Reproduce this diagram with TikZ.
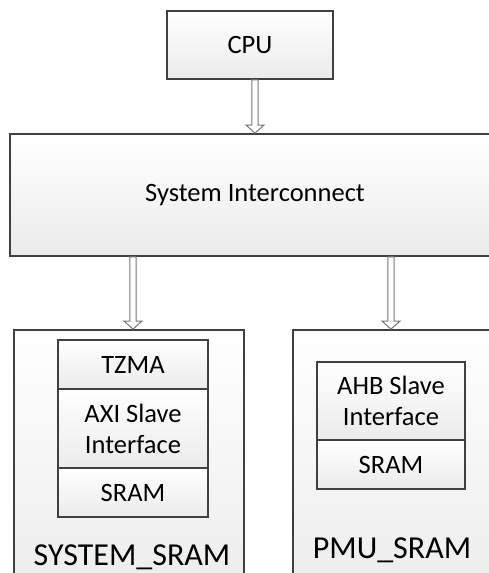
\documentclass[tikz,border=0pt]{standalone}
\usepackage{fontspec}
\setmainfont{Carlito}
\usetikzlibrary{calc}
\definecolor{edge}{HTML}{404040}
\definecolor{arrowgray}{HTML}{777777}
\definecolor{shadebot}{HTML}{EBEBEB}
\tikzset{
  box/.style={draw=edge, line width=1.8pt, top color=white, bottom color=shadebot,
    inner sep=0pt, font=\fontsize{26.5}{31}\selectfont, align=center},
  cell/.style={draw=edge, line width=1.1pt, top color=white, bottom color=shadebot,
    inner sep=0pt, font=\fontsize{26.5}{31}\selectfont, align=center},
  biglabel/.style={anchor=base, inner sep=0pt, font=\fontsize{32}{38}\selectfont},
  blockarrow/.style={draw=arrowgray, fill=white, line width=1pt, line join=miter,
    to path={let \p1=(\tikztostart), \p2=(\tikztotarget) in
      (\x1-3.2pt,\y1) -- (\x1-3.2pt,\y2+8pt) -- (\x1-9pt,\y2+8pt) -- (\x1,\y2)
      -- (\x1+9pt,\y2+8pt) -- (\x1+3.2pt,\y2+8pt) -- (\x1+3.2pt,\y1) -- cycle}}
}
\begin{document}
\begin{tikzpicture}[x=1pt,y=-1pt]
\useasboundingbox (0,0) rectangle (489,573);
\clip (0,0) rectangle (489,573);

% top level blocks
\node[box, minimum width=166pt, minimum height=68pt] (cpu) at (250,45) {CPU};
\node[box, minimum width=490pt, minimum height=122pt] (si) at (255,195) {System Interconnect};

% memory subsystems (run past the lower edge)
\node[box, minimum width=230pt, minimum height=280pt] (sys) at (129,470) {};
\node[box, minimum width=227pt, minimum height=280pt] (pmu) at (406.5,470) {};

% SYSTEM_SRAM stack
\node[cell, minimum width=150pt, minimum height=49pt] (tzma) at (133,364.5) {TZMA};
\node[cell, minimum width=150pt, minimum height=79pt] (axi) at (133,428.5) {AXI Slave\\Interface};
\node[cell, minimum width=150pt, minimum height=49pt] (sram1) at (133,492.5) {SRAM};
\node[biglabel] (syslbl) at (132,565) {SYSTEM\_SRAM};

% PMU_SRAM stack
\node[cell, minimum width=148pt, minimum height=78pt] (ahb) at (391,401) {AHB Slave\\Interface};
\node[cell, minimum width=148pt, minimum height=49pt] (sram2) at (391,464.5) {SRAM};
\node[biglabel] (pmulbl) at (392,558) {PMU\_SRAM};

% bus arrows
\draw[blockarrow] (cpu.south -| si.north) to (si.north);
\draw[blockarrow] (si.south -| tzma.north) to (sys.north -| tzma.north);
\draw[blockarrow] (si.south -| ahb.north) to (pmu.north -| ahb.north);
\end{tikzpicture}
\end{document}
